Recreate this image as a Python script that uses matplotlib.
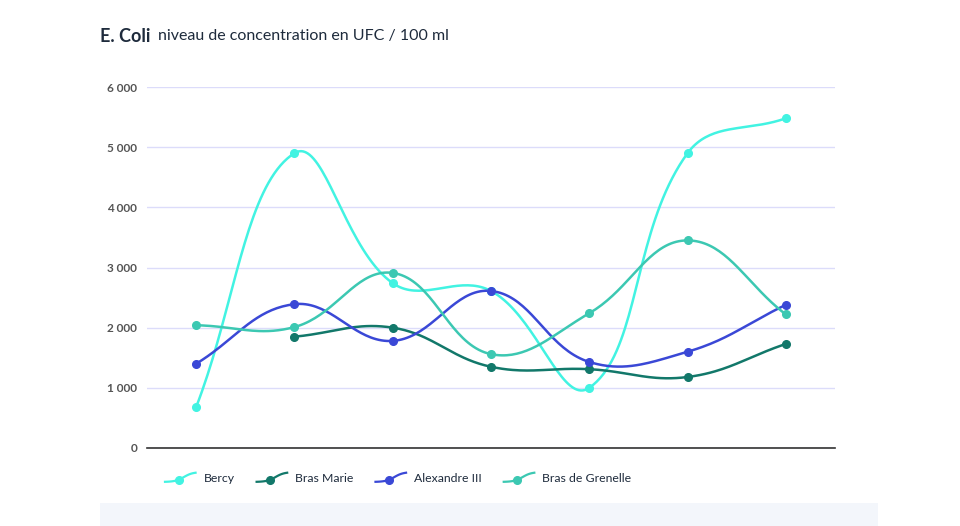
import numpy as np
import matplotlib
matplotlib.use("Agg")
import matplotlib.pyplot as plt
from matplotlib.patches import Rectangle
from matplotlib.lines import Line2D
from matplotlib.legend_handler import HandlerBase

categories = ["1", "2", "3", "4", "5", "6", "7"]
bercy = [680, 4900, 2740, 2610, 1000, 4900, 5480]
bras_marie = [None, 1850, 2000, 1350, 1310, 1180, 1730]
alexandre = [1400, 2390, 1780, 2610, 1430, 1600, 2380]
grenelle = [2040, 2010, 2910, 1560, 2240, 3450, 2220]
series_names = ["Bercy", "Bras Marie", "Alexandre III", "Bras de Grenelle"]
yticks = [0, 1000, 2000, 3000, 4000, 5000, 6000]

colors = ["#42F3E2", "#12786A", "#3A48D6", "#3CC8B2"]
navy = "#1E2B3C"

plt.rcParams['font.family'] = ['Lato', 'DejaVu Sans']

fig = plt.figure(figsize=(9.6, 5.26), dpi=100)
ax = fig.add_axes([147/960, 1-448/526, (835-147)/960, (448-87)/526])

SX, SY = 98.3, 60.2/1000.0  # pixel scale for spline distances


def spline(xs, ys, tension=0.4, n=40):
    xs = np.asarray(xs, float); ys = np.asarray(ys, float)
    P = np.column_stack([xs * SX, ys * SY])
    m = len(P)
    cps = []
    for i in range(m):
        prev = P[i-1] if i > 0 else P[i]
        nxt = P[i+1] if i < m-1 else P[i]
        d01 = np.hypot(*(P[i]-prev)); d12 = np.hypot(*(nxt-P[i]))
        tot = d01 + d12
        s01 = d01/tot if tot else 0; s12 = d12/tot if tot else 0
        fa, fb = tension*s01, tension*s12
        cps.append((P[i] - fa*(nxt-prev), P[i] + fb*(nxt-prev)))
    out = []
    t = np.linspace(0, 1, n)[:, None]
    for i in range(m-1):
        p0 = P[i]; p1 = cps[i][1]; p2 = cps[i+1][0]; p3 = P[i+1]
        seg = (1-t)**3*p0 + 3*(1-t)**2*t*p1 + 3*(1-t)*t**2*p2 + t**3*p3
        out.append(seg if i == 0 else seg[1:])
    out = np.vstack(out)
    return out[:, 0]/SX, out[:, 1]/SY


class SlantHandler(HandlerBase):
    def create_artists(self, legend, orig_handle, xdescent, ydescent, width, height, fontsize, trans):
        c = orig_handle.get_color()
        t = np.linspace(0, 1, 30)
        x = t * width - xdescent
        yb = -ydescent
        y = yb + height * (-0.05 + 1.15 * (1 / (1 + np.exp(-7 * (t - 0.62)))))
        ln = Line2D(x, y, color=c, lw=1.6, transform=trans)
        i = 13
        mk = Line2D([x[i]], [y[i]], marker='o', color=c, ms=5.5, ls='none', transform=trans)
        return [ln, mk]


handles = []
for name, vals, c in zip(series_names, [bercy, bras_marie, alexandre, grenelle], colors):
    idx = [i for i, v in enumerate(vals) if v is not None]
    v = [vals[i] for i in idx]
    sx, sy = spline(idx, v)
    ax.plot(sx, sy, color=c, lw=1.8, zorder=3, solid_capstyle='round')
    ax.plot(idx, v, 'o', color=c, ms=5.5, zorder=4)
    h, = ax.plot([], [], '-', color=c, label=name)
    handles.append(h)

ax.set_xlim(-0.5, 6.5)
ax.set_ylim(0, 6000)
ax.set_yticks(yticks)
ax.set_yticklabels([f"{v:,}".replace(",", " ") for v in yticks])
ax.set_xticks([])
for s in ["top", "right", "left"]:
    ax.spines[s].set_visible(False)
ax.spines["bottom"].set_color("#333333")
ax.spines["bottom"].set_linewidth(1.2)
ax.grid(axis='y', color="#DCDCFA", lw=1)
ax.set_axisbelow(True)
ax.tick_params(axis='y', length=0, pad=7, labelsize=8.5, labelcolor="#555555")
for lab in ax.get_yticklabels():
    lab.set_fontweight('bold')

fig.text(100/960, 1-36/526, "E. Coli", fontsize=13, fontweight='bold', color=navy, va='center', ha='left')
fig.text(158/960, 1-36/526, "niveau de concentration en UFC / 100 ml", fontsize=11.5, color=navy, va='center', ha='left')

leg = fig.legend(handles=handles, labels=series_names, loc='center left',
                 bbox_to_anchor=(165/960, 1-478/526), ncol=4, frameon=False,
                 fontsize=8.8, handlelength=2.5, handletextpad=0.65, columnspacing=1.8,
                 borderpad=0, borderaxespad=0,
                 handler_map={Line2D: SlantHandler()})
for t in leg.get_texts():
    t.set_color(navy)

fig.patches.append(Rectangle((100/960, 0), (878-100)/960, 23/526, transform=fig.transFigure,
                             facecolor="#F3F6FB", edgecolor='none', zorder=0))

fig.savefig("out.png", dpi=100)
